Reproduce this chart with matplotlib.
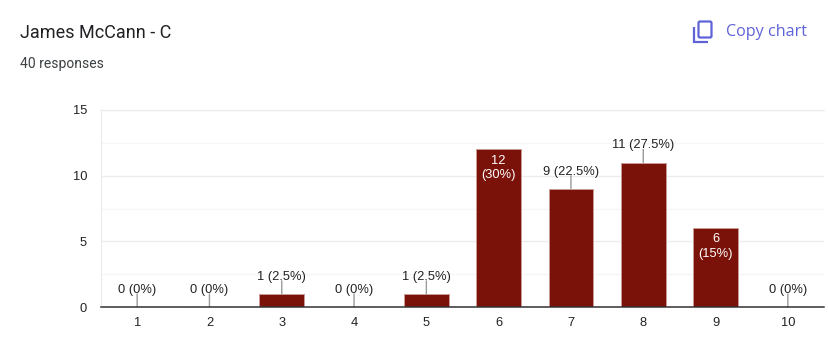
import matplotlib
matplotlib.use("Agg")
import matplotlib.pyplot as plt
from matplotlib.patches import FancyBboxPatch, PathPatch
from matplotlib.path import Path

categories = ["1", "2", "3", "4", "5", "6", "7", "8", "9", "10"]
counts = [0, 0, 1, 0, 1, 12, 9, 11, 6, 0]
percents = ["0%", "0%", "2.5%", "0%", "2.5%", "30%", "22.5%", "27.5%", "15%", "0%"]
major_ticks = [0, 5, 10, 15]
minor_ticks = [2.5, 7.5, 12.5]
title = "James McCann - C"
subtitle = "40 responses"
button = "Copy chart"

W, H = 829, 362
BAR = "#7a120a"
TXT = "#222222"
FS = 9.3
fig = plt.figure(figsize=(W / 100, H / 100), dpi=100, facecolor="white")
L, R, T, B = 101, 824, 110, 307
ax = fig.add_axes([L / W, 1 - B / H, (R - L) / W, (B - T) / H])
ax.set_xlim(-0.5, 9.5)
ax.set_ylim(0, 15)
ax.spines["top"].set_color("#ececec")
ax.spines["right"].set_visible(False)
ax.spines["left"].set_color("#ececec")
ax.spines["bottom"].set_color("#333333")
ax.spines["bottom"].set_linewidth(1.1)
ax.spines["bottom"].set_zorder(5)

ax.set_yticks(major_ticks)
ax.set_yticks(minor_ticks, minor=True)
ax.grid(True, axis="y", which="major", color="#ececec", lw=1)
ax.grid(True, axis="y", which="minor", color="#f6f6f6", lw=1)
ax.set_axisbelow(True)
ax.tick_params(axis="both", which="both", length=0)
ax.tick_params(axis="y", pad=10, labelsize=FS, labelcolor=TXT)
ax.tick_params(axis="x", pad=7, labelsize=FS, labelcolor=TXT)
ax.set_xticks(range(len(categories)), categories)
for lab in ax.get_xticklabels() + ax.get_yticklabels():
    lab.set_family("Liberation Sans")

x = list(range(len(categories)))
ax.bar(x, counts, width=0.62, color=BAR, edgecolor="#c99a96", linewidth=0.7, zorder=3)
for i, (c, p) in enumerate(zip(counts, percents)):
    if c == 0:
        ax.plot([i - 0.31, i + 0.31], [0.03, 0.03], color="#d5d5d5", lw=1, zorder=2, solid_capstyle="butt")
    if p in ("30%", "15%"):
        ax.annotate(f"{c}\n({p})", (i, c), xytext=(0, -3.8), textcoords="offset points",
                    ha="center", va="top", color="white", fontsize=FS, family="Liberation Sans",
                    linespacing=1.25, zorder=6)
    else:
        ax.annotate("", (i, c), xytext=(0, 9.4), textcoords="offset points",
                    arrowprops=dict(arrowstyle="-", color="#9a9a9a", lw=1, shrinkA=0, shrinkB=0), zorder=4)
        ax.annotate(f"{c} ({p})", (i, c), xytext=(0, 8), textcoords="offset points",
                    ha="center", va="bottom", color=TXT, fontsize=FS, family="Liberation Sans", zorder=6)

fig.text(20 / W, 1 - 33 / H, title, fontsize=12.95, family="Roboto", color="#202124", va="center", ha="left")
fig.text(20 / W, 1 - 64 / H, subtitle, fontsize=10, family="Roboto", color="#3c4043", va="center", ha="left")
fig.text(726 / W, 1 - 32 / H, button, fontsize=11.6, family="Open Sans", fontweight="medium", color="#5f63d8", va="center", ha="left")

# copy icon in pixel coordinates
ov = fig.add_axes([0, 0, 1, 1], facecolor="none")
ov.set_xlim(0, W)
ov.set_ylim(H, 0)
ov.axis("off")
ICON = "#5f63d8"
ov.add_patch(FancyBboxPatch((698.5, 21.5), 13, 16, boxstyle="round,pad=0,rounding_size=1.5",
                            fc="none", ec=ICON, lw=1.6))
ov.add_patch(PathPatch(Path([(694, 27), (694, 41.5), (708, 41.5)],
                            [Path.MOVETO, Path.LINETO, Path.LINETO]),
                       fc="none", ec=ICON, lw=1.6))
fig.savefig("out.png", dpi=100, facecolor="white")
